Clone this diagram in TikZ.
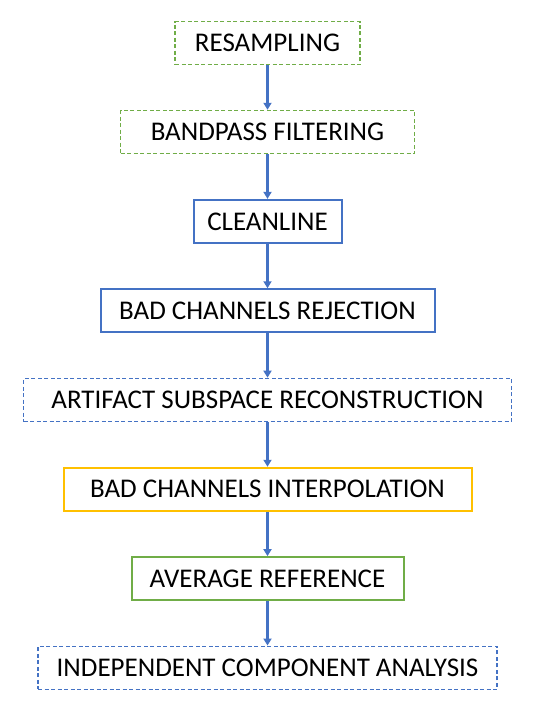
\documentclass[tikz,border=0pt]{standalone}
\usepackage{fontspec}
\setmainfont{Carlito}
\usetikzlibrary{arrows.meta, positioning}
\definecolor{ppGreen}{HTML}{70AD47}
\definecolor{ppBlue}{HTML}{4472C4}
\definecolor{ppYellow}{HTML}{FFC000}
\tikzset{
  stepbox/.style  = {draw, line width=2pt, minimum height=43pt, inner sep=0pt,
                     font=\fontsize{27}{30}\selectfont},
  optbox/.style   = {stepbox, dash pattern=on 4pt off 2.5pt, line width=1.7pt},
  flow/.style     = {-{Triangle[length=7pt, width=8pt]}, ppBlue, line width=2.4pt},
}

\begin{document}
\begin{tikzpicture}[x=1pt, y=-1pt, node distance=44.4pt]
\useasboundingbox (0,0) rectangle (534,721);
% preprocessing pipeline, top to bottom
\node[optbox, draw=ppGreen, minimum width=185pt] (resample) at (267.5,43) {RESAMPLING};
\node[optbox, draw=ppGreen, minimum width=294pt, below=of resample] (bandpass) {BANDPASS FILTERING};
\node[stepbox, draw=ppBlue, minimum width=148pt, below=of bandpass] (cleanline) {CLEANLINE};
\node[stepbox, draw=ppBlue, minimum width=334pt, below=of cleanline] (badreject) {BAD CHANNELS REJECTION};
\node[optbox, draw=ppBlue, minimum width=488pt, below=of badreject] (asr) {ARTIFACT SUBSPACE RECONSTRUCTION};
\node[stepbox, draw=ppYellow, minimum width=408pt, below=of asr] (badinterp) {BAD CHANNELS INTERPOLATION};
\node[stepbox, draw=ppGreen, minimum width=272pt, below=of badinterp] (avgref) {AVERAGE REFERENCE};
\node[optbox, draw=ppBlue, minimum width=459pt, below=of avgref] (ica) {INDEPENDENT COMPONENT ANALYSIS};
% arrows
\draw[flow] (resample) -- (bandpass);
\draw[flow] (bandpass) -- (cleanline);
\draw[flow] (cleanline) -- (badreject);
\draw[flow] (badreject) -- (asr);
\draw[flow] (asr) -- (badinterp);
\draw[flow] (badinterp) -- (avgref);
\draw[flow] (avgref) -- (ica);
\end{tikzpicture}
\end{document}
